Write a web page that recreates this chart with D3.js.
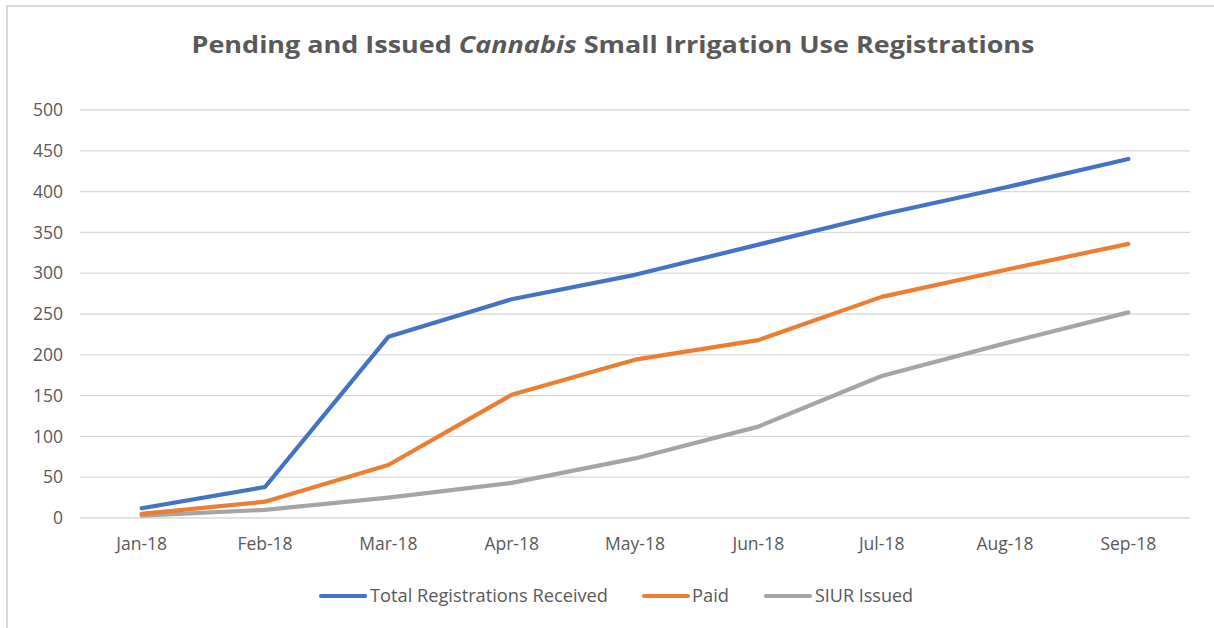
<!DOCTYPE html>
<html><head><meta charset="utf-8">
<script src="https://cdn.jsdelivr.net/npm/d3@7"></script>
<style>body{margin:0;background:#fff;}svg{display:block;}</style>
</head><body>
<svg id="chart" width="1214" height="628"></svg>
<script>
const categories = ["Jan-18","Feb-18","Mar-18","Apr-18","May-18","Jun-18","Jul-18","Aug-18","Sep-18"];
const totalReceived = [12, 38, 222, 268, 298, 335, 372, 405, 440];
const paid = [5, 20, 65, 151, 194, 218, 271, 304, 336];
const siurIssued = [3, 10, 25, 43, 73, 112, 174, 214, 252];
const seriesNames = ["Total Registrations Received", "Paid", "SIUR Issued"];
const seriesColors = ["#4472C4", "#ED7D31", "#A5A5A5"];
const yTicks = [0,50,100,150,200,250,300,350,400,450,500];

const series = [totalReceived, paid, siurIssued].map((v,i)=>({name:seriesNames[i], color:seriesColors[i], values:v}));

const svg = d3.select("#chart");
const font = "Open Sans, sans-serif";
const textColor = "#595959";

// border
svg.append("rect").attr("x",7).attr("y",6).attr("width",1220).attr("height",640)
  .attr("fill","none").attr("stroke","#d9d9d9").attr("stroke-width",2);

const margin = {left:80, right:1190, top:110, bottom:518};
const x = d3.scaleBand().domain(categories).range([margin.left, margin.right]);
const y = d3.scaleLinear().domain([0,500]).range([margin.bottom, margin.top]);

// gridlines
svg.append("g").selectAll("line").data(yTicks).join("line")
  .attr("x1",margin.left).attr("x2",margin.right)
  .attr("y1",d=>y(d)).attr("y2",d=>y(d))
  .attr("stroke","#d9d9d9").attr("stroke-width",1.3);

// y axis labels
const yAxis = d3.axisLeft(y).tickValues(yTicks).tickSize(0).tickPadding(17);
const gy = svg.append("g").attr("transform",`translate(${margin.left},0)`).call(yAxis);
gy.select(".domain").remove();
gy.selectAll("text").attr("font-family",font).attr("font-size",17.5).attr("fill",textColor);

// x axis labels
const xAxis = d3.axisBottom(x).tickSize(0).tickPadding(20);
const gx = svg.append("g").attr("transform",`translate(0,${margin.bottom})`).call(xAxis);
gx.select(".domain").remove();
gx.selectAll("text").attr("font-family",font).attr("font-size",17.5).attr("fill",textColor);

// lines
const line = d3.line().x((d,i)=>x(categories[i])+x.bandwidth()/2).y(d=>y(d));
svg.append("g").selectAll("path").data(series.slice().reverse()).join("path")
  .attr("d",d=>line(d.values)).attr("fill","none")
  .attr("stroke",d=>d.color).attr("stroke-width",4.2)
  .attr("stroke-linejoin","round").attr("stroke-linecap","round");

// title
const title = svg.append("text").attr("x",613).attr("y",53).attr("text-anchor","middle")
  .attr("font-family",font).attr("font-size",23).attr("font-weight","bold").attr("fill",textColor)
  .attr("textLength",843).attr("lengthAdjust","spacingAndGlyphs");
title.append("tspan").text("Pending and Issued ");
title.append("tspan").attr("font-style","italic").text("Cannabis");
title.append("tspan").text("  Small Irrigation Use Registrations");

// legend
const legendItems = [
  {x:321, tx:370, w:238},
  {x:644, tx:692, w:37},
  {x:766, tx:815, w:98}
];
const lg = svg.append("g").selectAll("g").data(series).join("g");
lg.append("line").attr("x1",(d,i)=>legendItems[i].x).attr("x2",(d,i)=>legendItems[i].x+44)
  .attr("y1",596).attr("y2",596).attr("stroke",d=>d.color).attr("stroke-width",4.2).attr("stroke-linecap","round");
lg.append("text").attr("x",(d,i)=>legendItems[i].tx).attr("y",602)
  .attr("font-family",font).attr("font-size",17.5).attr("fill",textColor)
  .attr("textLength",(d,i)=>legendItems[i].w).attr("lengthAdjust","spacingAndGlyphs")
  .text(d=>d.name);
</script>
</body></html>
